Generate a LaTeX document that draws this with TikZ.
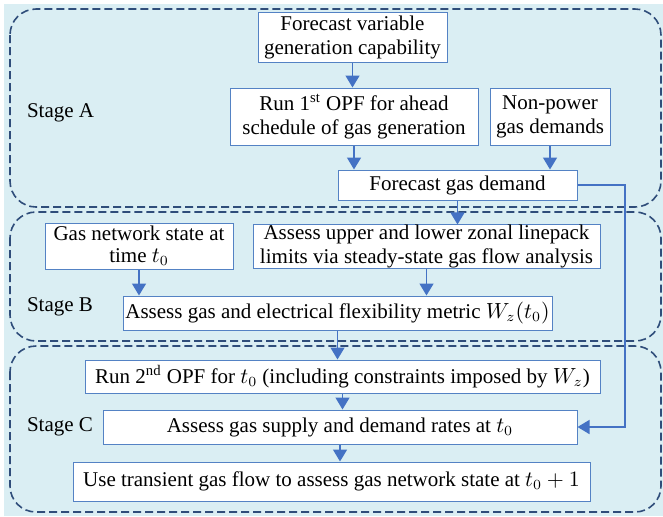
\documentclass[tikz,border=0pt]{standalone}
\usepackage{fontspec}
\setmainfont{Liberation Serif}
\usetikzlibrary{arrows.meta}
\definecolor{bgblue}{RGB}{218,238,243}
\definecolor{stageline}{RGB}{47,77,122}
\definecolor{boxline}{RGB}{84,130,196}
\definecolor{arrowblue}{RGB}{68,114,196}

\begin{document}
\begin{tikzpicture}[x=0.5pt, y=-0.5pt,
    stage/.style={draw=stageline, line width=0.8pt, dash pattern=on 4pt off 2pt, rounded corners=13pt},
    proc/.style={draw=boxline, fill=white, line width=0.5pt, align=center, inner sep=0pt,
        font=\fontsize{10.5}{12}\selectfont},
    lbl/.style={anchor=west, font=\fontsize{10.5}{12}\selectfont},
    flow/.style={draw=arrowblue, line width=0.75pt, -{Triangle[width=7pt,length=6pt]}}]
    \fill[bgblue] (4,4) rectangle (663,516);
    \useasboundingbox (0,0) rectangle (663,516);
    % stages
    \draw[stage] (10,9) rectangle (661,207);
    \draw[stage] (10,212) rectangle (661,341);
    \draw[stage] (10,346) rectangle (661,512);
    \node[lbl] (labA) at (20,113) {Stage A};
    \node[lbl] (labB) at (20,307) {Stage B};
    \node[lbl] (labC) at (20,427) {Stage C};
    % stage A
    \node[proc, minimum width=94.5pt, minimum height=25pt] (fvg) at (352.5,37) {Forecast variable\\generation capability};
    \node[proc, minimum width=124pt, minimum height=28.5pt] (opf1) at (354,116.5) {Run 1\textsuperscript{st} OPF for ahead\\schedule of gas generation};
    \node[proc, minimum width=60pt, minimum height=28.5pt] (npd) at (550,116.5) {Non-power\\gas demands};
    \node[proc, minimum width=119.5pt, minimum height=15pt] (fgd) at (457.5,185) {Forecast gas demand};
    % stage B
    \node[proc, minimum width=94pt, minimum height=21.5pt] (gns) at (139,246.5)
        {\begin{tabular}{@{}c@{}}Gas network state at\\[-1pt]time $t_0$\end{tabular}};
    \node[proc, minimum width=173.5pt, minimum height=21.5pt] (aul) at (426.5,246.5) {Assess upper and lower zonal linepack\\limits via steady-state gas flow analysis};
    \node[proc, minimum width=214.5pt, minimum height=17pt] (agef) at (337.5,313) {Assess gas and electrical flexibility metric $W_z(t_0)$};
    % stage C
    \node[proc, minimum width=257.5pt, minimum height=16.5pt] (opf2) at (342.5,376.5) {Run 2\textsuperscript{nd} OPF for $t_0$ (including constraints imposed by $W_z$)};
    \node[proc, minimum width=237pt, minimum height=17pt] (agsd) at (340,427) {Assess gas supply and demand rates at $t_0$};
    \node[proc, minimum width=258.5pt, minimum height=19.5pt] (utg) at (331.5,481.5) {Use transient gas flow to assess gas network state at $t_0+1$};
    \coordinate (bend) at (625,0);
    % arrows
    \draw[flow] (fvg.south) -- (fvg.south |- opf1.north);
    \draw[flow] (opf1.south) -- (opf1.south |- fgd.north);
    \draw[flow] (npd.south) -- (npd.south |- fgd.north);
    \draw[flow] (fgd.south) -- (fgd.south |- aul.north);
    \draw[flow] (gns.south) -- (gns.south |- agef.north);
    \draw[flow] (aul.south) -- (aul.south |- agef.north);
    \draw[flow] (agef.south) -- (agef.south |- opf2.north);
    \draw[flow] (opf2.south) -- (opf2.south |- agsd.north);
    \draw[flow] (agsd.south) -- (agsd.south |- utg.north);
    \draw[flow] (fgd.east) -- (fgd.east -| bend) -- (agsd.east -| bend) -- (agsd.east);
\end{tikzpicture}
\end{document}
